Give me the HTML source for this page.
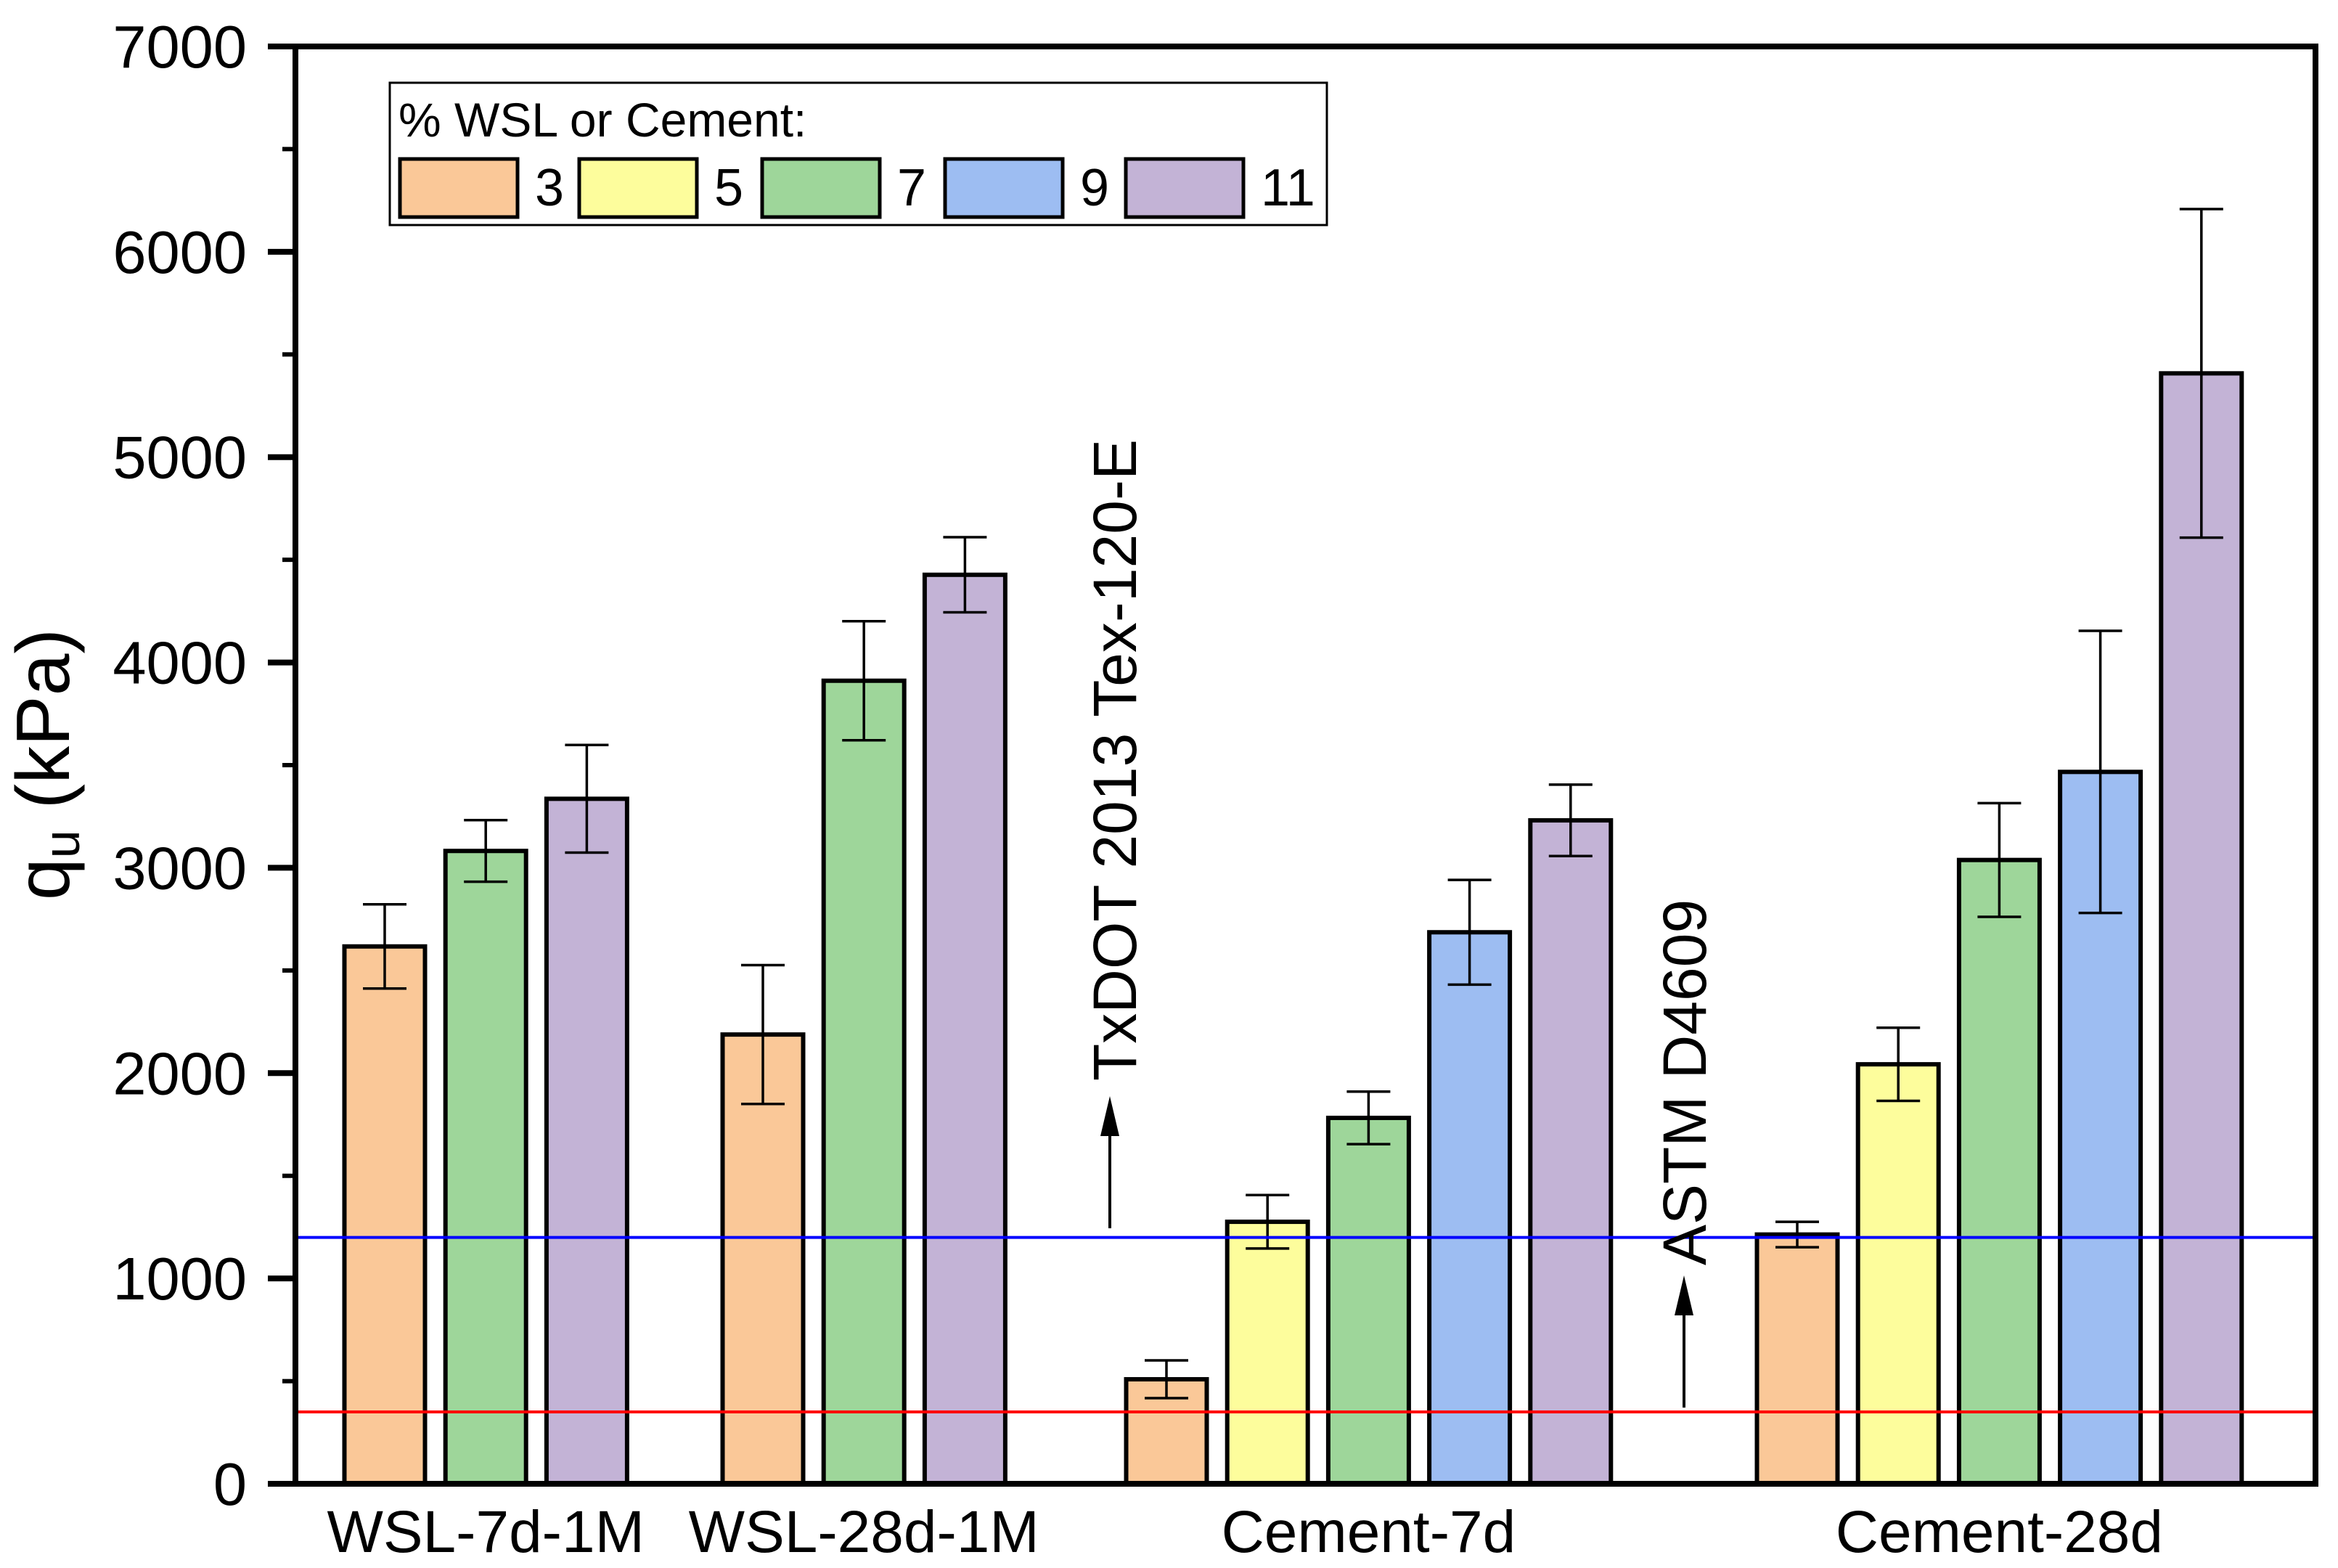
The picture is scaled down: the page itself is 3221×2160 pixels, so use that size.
<!DOCTYPE html>
<html><head><meta charset="utf-8">
<style>
html,body{margin:0;padding:0;background:#fff;}
svg{display:block;font-family:"Liberation Sans",Arial,sans-serif;}
</style></head>
<body>
<svg id="chart" width="3221" height="2160" viewBox="0 0 3221 2160" xmlns="http://www.w3.org/2000/svg">
<g id="plot"></g>
</svg>
<script>
const groups = ["WSL-7d-1M","WSL-28d-1M","Cement-7d","Cement-28d"];
const seriesNames = ["3","5","7","9","11"];
const colors = ["#FAC898","#FDFD9C","#9ED69A","#9DBDF2","#C3B3D6"];
// per group: series index present, value, error
const groupSeries = [[0,2,4],[0,2,4],[0,1,2,3,4],[0,1,2,3,4]];
const groupValues = [[2617,3082,3336],[2188,3911,4427],[509,1276,1782,2686,3231],[1214,2043,3038,3467,5408]];
const groupErrors = [[205,150,262],[338,290,183],[92,130,128,255,174],[62,178,277,687,800]];
const yTicks = [0,1000,2000,3000,4000,5000,6000,7000];
const refLines = [1200,350];

const NS="http://www.w3.org/2000/svg";
const g=document.getElementById('plot');
const X0=407,X1=3190,Y0=2044,Ytop=64,YMAX=7000;
function y(v){return Y0-(v/YMAX)*(Y0-Ytop);}
const groupStart=[530,1051,1607,2476];
const slot=139.2, bw=111;
function xSlot(gi,k){return groupStart[gi]+k*slot;}
function el(tag,attrs,text){const e=document.createElementNS(NS,tag);for(const k in attrs)e.setAttribute(k,attrs[k]);if(text!==undefined)e.textContent=text;g.appendChild(e);return e;}

// ref lines drawn behind? In reference lines over bars
// bars
groups.forEach((gn,gi)=>{
  groupSeries[gi].forEach((si,k)=>{
    const cx=xSlot(gi,k),v=groupValues[gi][k],er=groupErrors[gi][k];
    const r=el('rect',{x:cx-bw/2,y:y(v),width:bw,height:Y0-y(v),fill:colors[si],stroke:'#000','stroke-width':6});
    
    
    const e=el('path',{d:`M${cx},${y(v+er)}V${y(v-er)}M${cx-30},${y(v+er)}H${cx+30}M${cx-30},${y(v-er)}H${cx+30}`,stroke:'#000','stroke-width':3.5,fill:'none'});
    
    
  });
  const t=el('text',{x:groupStart[gi]+(groupSeries[gi].length-1)*slot/2,y:2138,'font-size':82,'text-anchor':'middle'},gn);
  
  
});
// reference lines
const rc=['#0000ff','#ff0000'];
refLines.forEach((v,i)=>{
  const l=el('line',{x1:X0,x2:X1,y1:y(v),y2:y(v),stroke:rc[i],'stroke-width':4});
  
  
});
// axes frame
const fr=el('rect',{x:X0,y:Ytop,width:X1-X0,height:Y0-Ytop,fill:'none',stroke:'#000','stroke-width':8});


// y ticks
yTicks.forEach(v=>{
  el('line',{x1:369,x2:X0,y1:y(v),y2:y(v),stroke:'#000','stroke-width':8});
  const t=el('text',{x:340,y:y(v)+29,'font-size':83,'text-anchor':'end'},String(v));
  
  
  if(v<YMAX) el('line',{x1:389,x2:X0,y1:y(v+500),y2:y(v+500),stroke:'#000','stroke-width':6});
});
// y title
const yt=el('text',{transform:'translate(95,1053) rotate(-90)','font-size':104,'text-anchor':'middle'});


yt.innerHTML='q<tspan font-size="70" dy="14">u</tspan><tspan dy="-14"> (kPa)</tspan>';
// annotations
function arrow(x,yb,yt2,name){
  const a=el('path',{d:`M${x},${yb}V${yt2+50}`,stroke:'#000','stroke-width':4});
  
  
  el('path',{d:`M${x},${yt2}L${x-13},${yt2+55}H${x+13}Z`,fill:'#000'});
}
arrow(1529,1692,1510,'txdot-arrow');
arrow(2320,1939,1757,'astm-arrow');
const a1=el('text',{transform:'translate(1565,1489) rotate(-90)','font-size':84},'TxDOT 2013 Tex-120-E');


const a2=el('text',{transform:'translate(2350,1743) rotate(-90)','font-size':84},'ASTM D4609');


// legend
const lg=el('rect',{x:537,y:114,width:1291,height:196,fill:'#fff',stroke:'#000','stroke-width':3});


const lt=el('text',{x:549,y:188,'font-size':66},'% WSL or Cement:');


const swX=[551,798,1050,1302,1551];
seriesNames.forEach((s,i)=>{
  const r=el('rect',{x:swX[i],y:219,width:162,height:80,fill:colors[i],stroke:'#000','stroke-width':5});
  
  
  const t=el('text',{x:swX[i]+186,y:283,'font-size':72},s);
  
  
});
</script>
</body></html>
